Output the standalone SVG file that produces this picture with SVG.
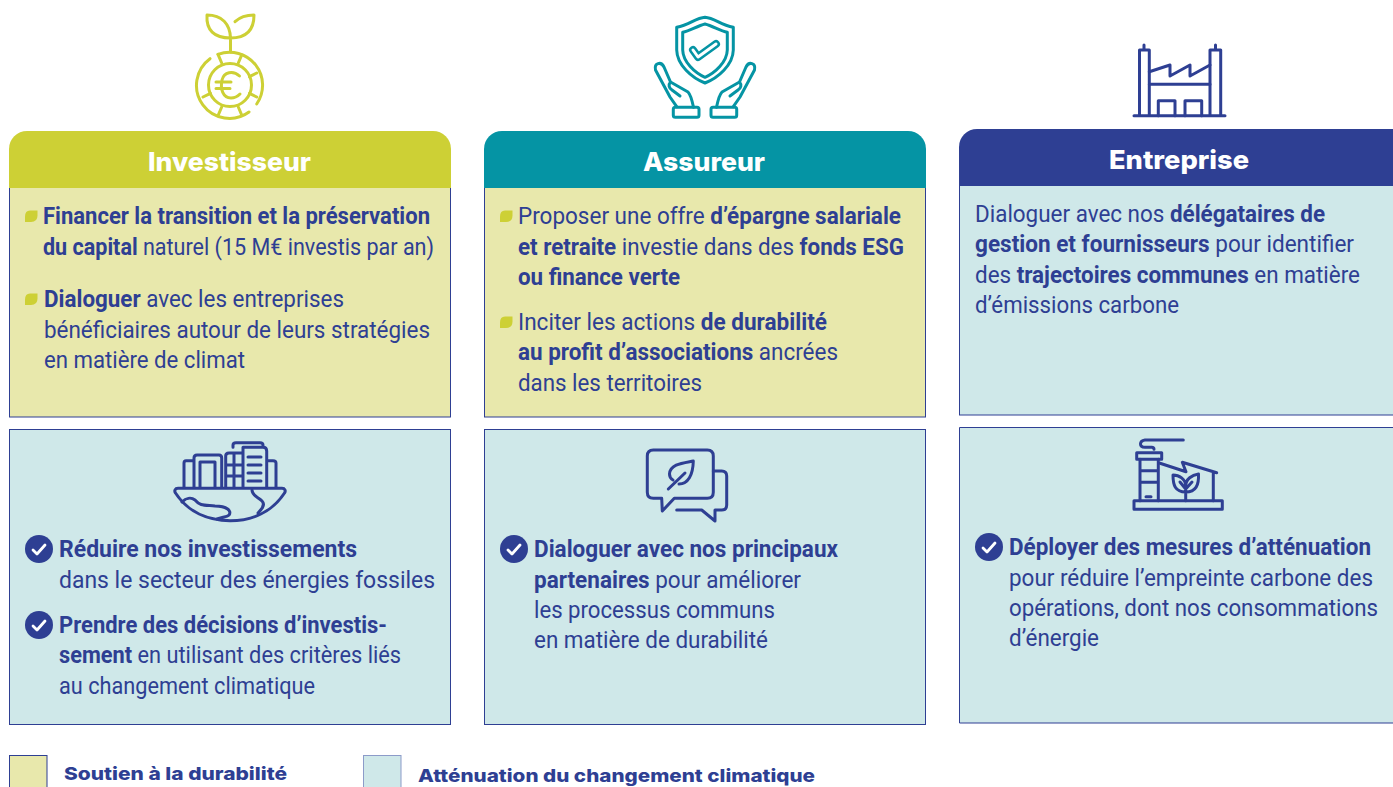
<svg xmlns="http://www.w3.org/2000/svg" width="1393" height="787" viewBox="0 0 1393 787">
<style>
.y{fill:#e8e8ac;stroke:#2e3f93;stroke-width:1}
.b{fill:#cfe8e9;stroke:#2e3f93;stroke-width:1}
.h{font:800 26px Inter,"Liberation Sans",sans-serif;fill:#fff}
.t{font:400 24.5px Roboto,"Liberation Sans",sans-serif;fill:#2e3f93}
.t tspan.s{font-weight:700}
.l{font:800 18px Inter,"Liberation Sans",sans-serif;fill:#2e3f93}
.i{fill:none;stroke-linecap:round;stroke-linejoin:round;stroke-width:3}
.n{stroke:#2e3f93}
.g{stroke:#cdd035}
.e{stroke:#0594a4}
.c{fill:none;stroke:#fff;stroke-width:2.8;stroke-linecap:round;stroke-linejoin:round}
</style>
<defs>
<g id="check"><circle r="14" fill="#2e3f93"/><path class="c" d="M-6 1L-2 5L6-4"/></g>
<path id="leaf" d="M5 0H12.500V5Q12.500 11.500 6 11.500H0V6Q0 0 5 0Z" fill="#cdd035"/>
</defs>

<g id="investisseur">
<g class="i g">
<path d="M230.500 38C230 24 222 15 207 15C206 30 214 38 230.500 38M235 21.700C240 17 247 15 254 15C254 30 246 38 230.500 38V52"/>
<path d="M218 54.300A33 33 0 0 1 256.700 104M249 112A33 33 0 0 1 210 58.700"/>
<circle cx="230" cy="85" r="21.500"/>
<path d="M218 54.300L221.700 63M241.700 55L238.300 63M256.700 73L249.500 76.700M256.700 97L249.500 93.300M241.700 115L238.300 107M218.300 115L221.700 107M203 97L210.500 93.300"/>
<path d="M239.500 76C233 70 224 72 222 80C220 89 223 98 231 98C235 98 238 96 240 94M216 82H231M216 88.500H230"/>
</g>
<rect class="y" x="9.500" y="170" width="441" height="247"/>
<path d="M9 188V149A18 18 0 0 1 27 131H433A18 18 0 0 1 451 149V188Z" fill="#cdd035"/>
<text class="h" x="148" y="171" textLength="163" lengthAdjust="spacingAndGlyphs">Investisseur</text>
<use href="#leaf" x="25" y="210.500"/><use href="#leaf" x="25" y="293.500"/>
<text class="t" transform="translate(43 224) scale(.85 1)" textLength="455.300" lengthAdjust="spacingAndGlyphs"><tspan class="s">Financer la transition et la préservation</tspan></text>
<text class="t" transform="translate(43 254.500) scale(.85 1)" textLength="460" lengthAdjust="spacingAndGlyphs"><tspan class="s">du capital</tspan> naturel (15 M€ investis par an)</text>
<text class="t" transform="translate(44 307) scale(.85 1)" textLength="352.900" lengthAdjust="spacingAndGlyphs"><tspan class="s">Dialoguer</tspan> avec les entreprises</text>
<text class="t" transform="translate(44 337.500) scale(.85 1)" textLength="454.100" lengthAdjust="spacingAndGlyphs">bénéficiaires autour de leurs stratégies</text>
<text class="t" transform="translate(44 367.500) scale(.85 1)" textLength="236.500" lengthAdjust="spacingAndGlyphs">en matière de climat</text>
<rect class="b" x="9.500" y="429.500" width="441" height="295"/>
<g class="i n">
<path d="M178 488.300H282C285 488.300 286 491 284.500 493C272 512 252 520.700 230 520.700C208 520.700 188 512 175.500 493C174 491 175 488.300 178 488.300Z"/>
<path d="M184 487V463Q184 460.700 186 460.700H194M194 487V458Q194 455 197 455H219Q221.700 455 221.700 458V487M200 487V462H215V487M225.700 487V456Q225.700 453 229 453H243M225.700 465H243M225.700 476H243M234 453V487M243 487V447.300H263Q266.700 447.300 266.700 451V487M233 447.300V445Q233 442.700 236 442.700H260Q263 442.700 263 445V447.300M248 457H261M248 465H261M248 473H261M248 481H261M266.700 460.700H273Q276 460.700 276 463V487"/>
<path d="M182 502C186 498 191 497 195 500C200 506 204 505 215 506C227 506 232 511 229 515C227 517 222 517 217 519M252 490C252 496 258 497 262 501C266 505 261 510 258 513"/>
</g>
<use href="#check" x="39" y="549"/><use href="#check" x="39" y="625"/>
<text class="t" transform="translate(59 557) scale(.85 1)" textLength="350.600" lengthAdjust="spacingAndGlyphs"><tspan class="s">Réduire nos investissements</tspan></text>
<text class="t" transform="translate(59 587.500) scale(.85 1)" textLength="442.400" lengthAdjust="spacingAndGlyphs">dans le secteur des énergies fossiles</text>
<text class="t" transform="translate(59 633) scale(.85 1)" textLength="385.900" lengthAdjust="spacingAndGlyphs"><tspan class="s">Prendre des décisions d’investis-</tspan></text>
<text class="t" transform="translate(59 663) scale(.85 1)" textLength="402.400" lengthAdjust="spacingAndGlyphs"><tspan class="s">sement</tspan> en utilisant des critères liés</text>
<text class="t" transform="translate(59 693.500) scale(.85 1)" textLength="301.200" lengthAdjust="spacingAndGlyphs">au changement climatique</text>
</g>

<g id="assureur">
<g class="i e">
<path d="M705 17.300C695 18 690 25 676.700 27.300V50C677 65 692 78 705 83C718 78 733 65 733.300 50V27.300C720 25 715 18 705 17.300Z"/>
<path d="M705 24C697 26 690 31 682.700 32.300V50C683 62 695 73 705 77.300C715 73 727 62 727.300 50V32.300C720 31 713 26 705 24Z"/>
<path d="M676.700 106.700L670 97L655.500 70C654 63 661 61 664 67L670.500 82L688 92C691 95 692 100 693.500 107.300M670.500 82C668 85 669 88 672 90L680 96"/>
<path d="M733.300 106.700L740 97L754.500 70C756 63 749 61 746 67L739.500 82L722 92C719 95 718 100 716.500 107.300M739.500 82C742 85 741 88 738 90L730 96"/>
<rect x="673.300" y="107.300" width="25.700" height="10" rx="2"/>
<rect x="711" y="107.300" width="25.700" height="10" rx="2"/>
</g>
<polyline points="693,50 698,57 716,44" fill="none" stroke="#0594a4" stroke-width="8" stroke-linecap="round" stroke-linejoin="round"/>
<polyline points="693,50 698,57 716,44" fill="none" stroke="#fff" stroke-width="3" stroke-linecap="round" stroke-linejoin="round"/>
<rect class="y" x="484.500" y="170" width="441" height="247"/>
<path d="M484 188V149A18 18 0 0 1 502 131H908A18 18 0 0 1 926 149V188Z" fill="#0594a4"/>
<text class="h" x="643" y="171" textLength="122" lengthAdjust="spacingAndGlyphs">Assureur</text>
<use href="#leaf" x="500" y="210.500"/><use href="#leaf" x="500" y="316.500"/>
<text class="t" transform="translate(518 224) scale(.85 1)" textLength="450.600" lengthAdjust="spacingAndGlyphs">Proposer une offre <tspan class="s">d’épargne salariale</tspan></text>
<text class="t" transform="translate(518 254.500) scale(.85 1)" textLength="454.100" lengthAdjust="spacingAndGlyphs"><tspan class="s">et retraite</tspan> investie dans des <tspan class="s">fonds ESG</tspan></text>
<text class="t" transform="translate(518 284.500) scale(.85 1)" textLength="190.600" lengthAdjust="spacingAndGlyphs"><tspan class="s">ou finance verte</tspan></text>
<text class="t" transform="translate(518 330) scale(.85 1)" textLength="363.500" lengthAdjust="spacingAndGlyphs">Inciter les actions <tspan class="s">de durabilité</tspan></text>
<text class="t" transform="translate(518 360) scale(.85 1)" textLength="376.500" lengthAdjust="spacingAndGlyphs"><tspan class="s">au profit d’associations</tspan> ancrées</text>
<text class="t" transform="translate(518 390.500) scale(.85 1)" textLength="216.500" lengthAdjust="spacingAndGlyphs">dans les territoires</text>
<rect class="b" x="484.500" y="429.500" width="441" height="295"/>
<g class="i n">
<path d="M653.300 450H707.300Q713.300 450 713.300 456V492.300Q713.300 498.300 707.300 498.300H674.300L662.300 511L661.700 498.300H653.300Q647.300 498.300 647.300 492.300V456Q647.300 450 653.300 450Z"/>
<path d="M713.300 471H721.700Q726.700 471 726.700 476V505Q726.700 510 721.700 510H715L715 521L701.700 510H676.700"/>
<path d="M693.300 461C683 463 670 464 669.500 474C669.500 477 671 479 673 480M679 484C688 484 693 475 693.300 461M668.300 489L685 473"/>
</g>
<use href="#check" x="514" y="549"/>
<text class="t" transform="translate(534 557) scale(.85 1)" textLength="357.600" lengthAdjust="spacingAndGlyphs"><tspan class="s">Dialoguer avec nos principaux</tspan></text>
<text class="t" transform="translate(534 587.500) scale(.85 1)" textLength="314.100" lengthAdjust="spacingAndGlyphs"><tspan class="s">partenaires</tspan> pour améliorer</text>
<text class="t" transform="translate(534 618) scale(.85 1)" textLength="283.500" lengthAdjust="spacingAndGlyphs">les processus communs</text>
<text class="t" transform="translate(534 648) scale(.85 1)" textLength="275.300" lengthAdjust="spacingAndGlyphs">en matière de durabilité</text>
</g>

<g id="entreprise">
<g class="i n">
<path d="M1134 115.700H1225M1139.500 115.700V50H1149.300V115.700M1210 115.700V50H1220.700V115.700M1144 50V45M1215.500 50V45"/>
<path d="M1149.300 71.700L1170 65V76L1190 65V76L1210 65M1149.300 84.300H1210M1158.300 115.700V100.700H1175V115.700M1185 115.700V100.700H1201.700V115.700"/>
</g>
<rect class="b" x="959.500" y="170" width="440" height="245"/>
<path d="M959 186V147A18 18 0 0 1 977 129H1394V186Z" fill="#2e3f93"/>
<text class="h" x="1109" y="169" textLength="140" lengthAdjust="spacingAndGlyphs">Entreprise</text>
<text class="t" transform="translate(975 222) scale(.85 1)" textLength="411.800" lengthAdjust="spacingAndGlyphs">Dialoguer avec nos <tspan class="s">délégataires de</tspan></text>
<text class="t" transform="translate(975 252) scale(.85 1)" textLength="445.900" lengthAdjust="spacingAndGlyphs"><tspan class="s">gestion et fournisseurs</tspan> pour identifier</text>
<text class="t" transform="translate(975 283) scale(.85 1)" textLength="452.900" lengthAdjust="spacingAndGlyphs">des <tspan class="s">trajectoires communes</tspan> en matière</text>
<text class="t" transform="translate(975 313) scale(.85 1)" textLength="240" lengthAdjust="spacingAndGlyphs">d’émissions carbone</text>
<path class="b" d="M1394 427.500H959.500V723H1394"/>
<g class="i n">
<rect x="1134" y="500.700" width="88.300" height="8.600"/>
<rect x="1136.700" y="452.700" width="25" height="6.600"/>
<path d="M1140 500.700V459.300M1158.300 500.700V459.300M1140 470.700H1158.300M1140 482.300H1158.300M1146 496.700H1151M1183.300 440H1145C1139 441 1139 447 1145 447.300H1151.700Q1154 447.300 1154 449.300"/>
<path d="M1160 463.300L1186 471.700L1182.300 462.300L1216.700 472.700M1213.300 472.700V500.700"/>
<path d="M1185.700 500.700V483M1185.700 492C1175 492 1173 485 1173 475C1179 475 1185.700 479 1185.700 486C1185.700 479 1192 475 1198.500 474C1199 485 1196 492 1185.700 492M1180 482L1185.700 489L1192 482"/>
</g>
<use href="#check" x="989" y="547"/>
<text class="t" transform="translate(1009 555) scale(.85 1)" textLength="425.900" lengthAdjust="spacingAndGlyphs"><tspan class="s">Déployer des mesures d’atténuation</tspan></text>
<text class="t" transform="translate(1009 585.500) scale(.85 1)" textLength="428.200" lengthAdjust="spacingAndGlyphs">pour réduire l’empreinte carbone des</text>
<text class="t" transform="translate(1009 616) scale(.85 1)" textLength="434.100" lengthAdjust="spacingAndGlyphs">opérations, dont nos consommations</text>
<text class="t" transform="translate(1009 646) scale(.85 1)" textLength="105.900" lengthAdjust="spacingAndGlyphs">d’énergie</text>
</g>

<g id="legend-durabilite">
<rect class="y" x="9.500" y="755.500" width="37.500" height="40"/>
<text class="l" x="64" y="780" textLength="223" lengthAdjust="spacingAndGlyphs">Soutien à la durabilité</text>
</g>
<g id="legend-attenuation">
<rect class="b" x="363.500" y="755.500" width="37.500" height="40" style="stroke:#8c9bc9"/>
<text class="l" x="418" y="782" textLength="397" lengthAdjust="spacingAndGlyphs">Atténuation du changement climatique</text>
</g>
</svg>
